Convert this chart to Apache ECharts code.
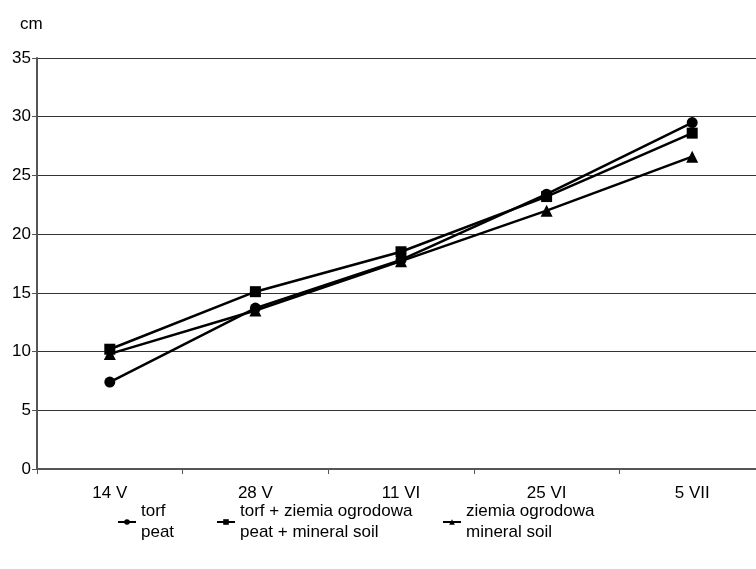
<!DOCTYPE html>
<html><head><meta charset="utf-8">
<script src="https://cdn.jsdelivr.net/npm/echarts@6/dist/echarts.min.js"></script>
<style>html,body{margin:0;padding:0;background:#fff}#c{width:756px;height:569px}</style>
</head><body><div id="c"></div>
<script>
const categories = ['14 V', '28 V', '11 VI', '25 VI', '5 VII'];
const torf = [7.4, 13.7, 17.8, 23.4, 29.5];
const torfZiemia = [10.2, 15.1, 18.5, 23.2, 28.6];
const ziemia = [9.8, 13.5, 17.7, 22.0, 26.6];
const seriesNames = ['torf\npeat', 'torf + ziemia ogrodowa\npeat + mineral soil', 'ziemia ogrodowa\nmineral soil'];
const yTicks = {min: 0, max: 35, interval: 5};

const font = 'Liberation Sans, Arial, sans-serif';
const chart = echarts.init(document.getElementById('c'));
function mk(name, data, symbol, size) {
  return {
    name, type: 'line', data, symbol, symbolSize: size,
    lineStyle: {color: '#000', width: 2.5},
    itemStyle: {color: '#000'},
    animation: false
  };
}
const legendBase = {
  orient: 'horizontal', top: 496, itemWidth: 18, itemHeight: 7, itemGap: 4,
  textStyle: {fontFamily: font, fontSize: 17, color: '#000', lineHeight: 21},
  selectedMode: false
};
chart.setOption({
  backgroundColor: '#fff',
  textStyle: {fontFamily: font},
  grid: {left: 37, width: 728, top: 58, height: 411, outerBoundsMode: 'none', containLabel: false},
  title: {text: 'cm', left: 15, top: 11, textStyle: {fontFamily: font, fontSize: 17, fontWeight: 'normal', color: '#000'}},
  legend: [
    Object.assign({}, legendBase, {left: 112, data: [seriesNames[0]]}),
    Object.assign({}, legendBase, {left: 211, data: [seriesNames[1]]}),
    Object.assign({}, legendBase, {left: 437, data: [seriesNames[2]]})
  ],
  xAxis: {
    type: 'category', data: categories, boundaryGap: true,
    axisLine: {lineStyle: {color: '#555', width: 2}},
    axisTick: {show: true, length: 5, lineStyle: {color: '#555'}, alignWithLabel: false},
    axisLabel: {fontFamily: font, fontSize: 17, color: '#000', margin: 16}
  },
  yAxis: {
    type: 'value', min: yTicks.min, max: yTicks.max, interval: yTicks.interval,
    axisLine: {show: true, lineStyle: {color: '#555', width: 2}},
    axisTick: {show: true, length: 5, lineStyle: {color: '#555'}},
    axisLabel: {fontFamily: font, fontSize: 17, color: '#000', margin: 6},
    splitLine: {lineStyle: {color: '#333', width: 1}}
  },
  series: [
    mk(seriesNames[0], torf, 'circle', 11),
    mk(seriesNames[1], torfZiemia, 'rect', 11),
    mk(seriesNames[2], ziemia, 'triangle', 12)
  ]
});
</script></body></html>
